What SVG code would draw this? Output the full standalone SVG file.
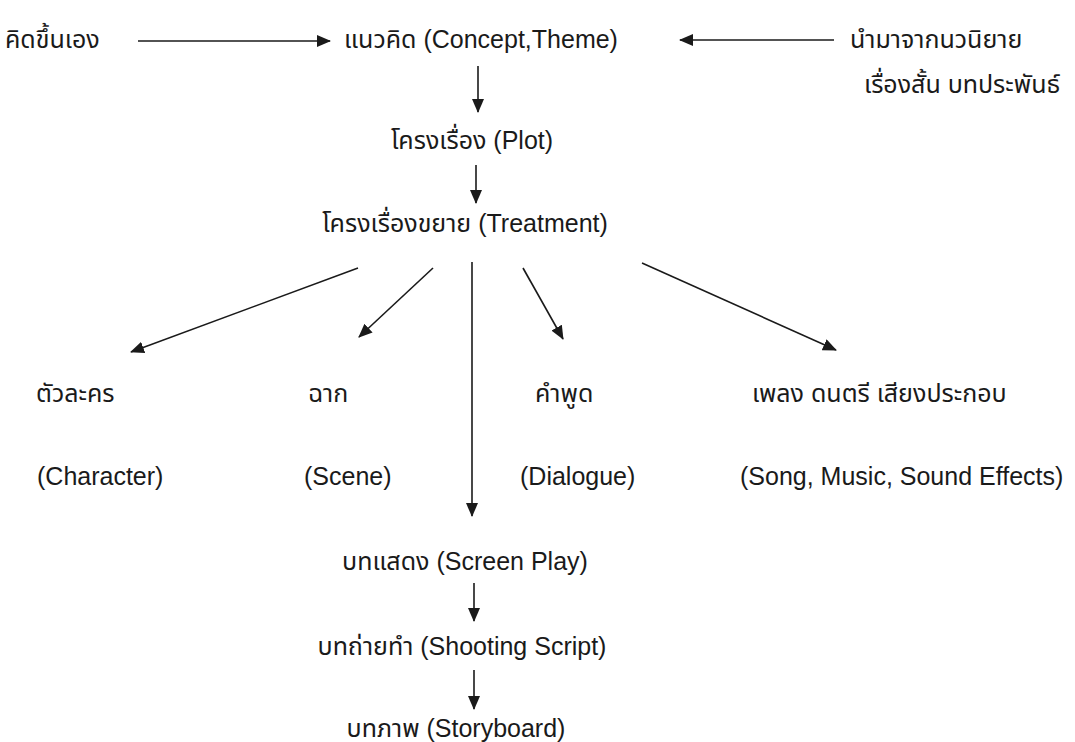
<svg xmlns="http://www.w3.org/2000/svg" width="1075" height="742" viewBox="0 0 1075 742">
  <style>
    text { font-family: "Liberation Sans", "Noto Sans Thai", "Noto Sans", "DejaVu Sans", sans-serif; font-size: 25px; fill: #1a1a1a; }
    .mid { text-anchor: middle; }
    .conn line { stroke: #1a1a1a; stroke-width: 1.6; marker-end: url(#arrow); }
  </style>
  <defs>
    <marker id="arrow" markerUnits="userSpaceOnUse" markerWidth="14" markerHeight="12" refX="13" refY="6" orient="auto">
      <path d="M0,0 L14,6 L0,12 z" fill="#1a1a1a"/>
    </marker>
  </defs>

  <rect width="1075" height="742" fill="#ffffff"/>

  <!-- connectors -->
  <g id="connectors" class="conn">
    <line x1="138" y1="41" x2="330" y2="41"/>
    <line x1="834" y1="40" x2="680" y2="40"/>
    <line x1="478" y1="66" x2="478" y2="112"/>
    <line x1="476" y1="165" x2="476" y2="203"/>
    <line x1="358" y1="268" x2="131" y2="352"/>
    <line x1="433" y1="268" x2="359" y2="337"/>
    <line x1="472" y1="262" x2="472" y2="516"/>
    <line x1="523" y1="268" x2="563" y2="339"/>
    <line x1="642" y1="263" x2="836" y2="350"/>
    <line x1="474" y1="583" x2="474" y2="621"/>
    <line x1="474" y1="670" x2="474" y2="709"/>
  </g>

  <g id="self-made"><text x="5" y="48">คิดขึ้นเอง</text></g>
  <g id="concept"><text class="mid" x="481" y="48">แนวคิด (Concept,Theme)</text></g>
  <g id="adapted">
    <text x="850" y="48">นำมาจากนวนิยาย</text>
    <text x="864" y="93">เรื่องสั้น บทประพันธ์</text>
  </g>
  <g id="plot"><text class="mid" x="472" y="149">โครงเรื่อง (Plot)</text></g>
  <g id="treatment"><text class="mid" x="465" y="232">โครงเรื่องขยาย (Treatment)</text></g>

  <g id="character">
    <text x="36" y="402">ตัวละคร</text>
    <text x="37" y="485">(Character)</text>
  </g>
  <g id="scene">
    <text x="308" y="402">ฉาก</text>
    <text x="304" y="485">(Scene)</text>
  </g>
  <g id="dialogue">
    <text x="535" y="402">คำพูด</text>
    <text x="520" y="485">(Dialogue)</text>
  </g>
  <g id="sound">
    <text x="752" y="402">เพลง ดนตรี เสียงประกอบ</text>
    <text x="740" y="485">(Song, Music, Sound Effects)</text>
  </g>

  <g id="screenplay"><text class="mid" x="465" y="570">บทแสดง (Screen Play)</text></g>
  <g id="shooting-script"><text class="mid" x="462" y="655">บทถ่ายทำ (Shooting Script)</text></g>
  <g id="storyboard"><text class="mid" x="456" y="737">บทภาพ (Storyboard)</text></g>
</svg>
